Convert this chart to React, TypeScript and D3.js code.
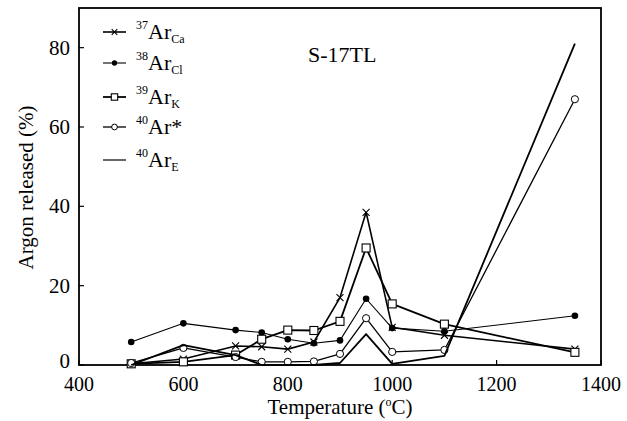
import React from 'react'
import * as d3 from 'd3'

// temperature steps (°C)
const temps = [500, 600, 700, 750, 800, 850, 900, 950, 1000, 1100, 1350]
// argon released (%) per isotope
const ar37Ca = [0.3, 1.5, 4.8, 4.6, 4.0, 5.8, 17, 38.5, 9.5, 7.5, 4.0]
const ar38Cl = [5.8, 10.5, 8.8, 8.2, 6.5, 5.5, 6.2, 16.7, 9.3, 8.5, 12.4]
const ar39K = [0.3, 0.8, 2.5, 6.5, 8.8, 8.7, 11, 29.5, 15.4, 10.3, 3.2]
const ar40Star = [0.5, 4.3, 2.0, 0.8, 0.8, 0.9, 2.8, 11.8, 3.3, 3.8, 67]
const ar40E = [0, 5.0, 2.5, 0, 0, 0, 0.5, 7.8, 0.3, 2.3, 81]

const xTicks = [400, 600, 800, 1000, 1200, 1400]
const yTicks = [0, 20, 40, 60, 80]

const W = 627
const H = 421
const m = { left: 79, right: 601, top: 8, bottom: 365 }
const font = '"Liberation Serif", "DejaVu Serif", serif'

type Kind = 'cross' | 'dot' | 'square' | 'ring' | 'none'

const series: { name: string; sup: string; sub: string; values: number[]; kind: Kind; width: number }[] = [
  { name: 'Ca', sup: '37', sub: 'Ca', values: ar37Ca, kind: 'cross', width: 1.6 },
  { name: 'Cl', sup: '38', sub: 'Cl', values: ar38Cl, kind: 'dot', width: 1.1 },
  { name: 'K', sup: '39', sub: 'K', values: ar39K, kind: 'square', width: 1.8 },
  { name: 'Star', sup: '40', sub: '', values: ar40Star, kind: 'ring', width: 1.3 },
  { name: 'E', sup: '40', sub: 'E', values: ar40E, kind: 'none', width: 1.8 },
]

const Marker = ({ kind, x, y, s = 1 }: { kind: Kind; x: number; y: number; s?: number }) => {
  if (kind === 'cross')
    return <path d={`M${x - 3.5 * s},${y - 3.5 * s}L${x + 3.5 * s},${y + 3.5 * s}M${x - 3.5 * s},${y + 3.5 * s}L${x + 3.5 * s},${y - 3.5 * s}`} stroke="#000" strokeWidth={1.1} />
  if (kind === 'dot') return <circle cx={x} cy={y} r={3.3 * s} fill="#000" />
  if (kind === 'square') return <rect x={x - 4 * s} y={y - 4 * s} width={8 * s} height={8 * s} fill="#fff" stroke="#000" strokeWidth={1.1} />
  if (kind === 'ring') return <circle cx={x} cy={y} r={3.6 * s} fill="#fff" stroke="#000" strokeWidth={1} />
  return null
}

export default function App() {
  const x = d3.scaleLinear().domain([400, 1400]).range([m.left, m.right])
  const y = d3.scaleLinear().domain([0, 90]).range([m.bottom, m.top])
  const line = d3.line<number>().x((_, i) => x(temps[i])).y(d => y(d))

  return (
    <svg width={W} height={H} style={{ position: 'absolute', left: 0, top: 0, background: '#fff' }} fontFamily={font}>
      {/* frame */}
      <rect x={m.left} y={m.top} width={m.right - m.left} height={m.bottom - m.top} fill="none" stroke="#000" strokeWidth={1.8} />
      {xTicks.map(t => (
        <g key={t}>
          <line x1={x(t)} x2={x(t)} y1={m.bottom} y2={m.bottom - 5} stroke="#000" strokeWidth={1.2} />
          <text x={x(t)} y={391} fontSize={20} textAnchor="middle">{t}</text>
        </g>
      ))}
      {yTicks.map(t => (
        <g key={t}>
          <line x1={m.left} x2={m.left + 5} y1={y(t)} y2={y(t)} stroke="#000" strokeWidth={1.2} />
          <text x={70} y={t === 0 ? y(t) + 3 : y(t) + 7} fontSize={21} textAnchor="end">{t}</text>
        </g>
      ))}
      <text x={340} y={414} fontSize={21} textAnchor="middle">
        Temperature (<tspan fontSize={12} dy={-8}>o</tspan><tspan dy={8}>C)</tspan>
      </text>
      <text transform={`translate(33,${(m.top + m.bottom) / 2 + 1}) rotate(-90)`} fontSize={21} textAnchor="middle">Argon released (%)</text>
      <text x={308} y={62} fontSize={22}>S-17TL</text>

      {series.map(s => (
        <g key={s.name}>
          <path d={line(s.values) ?? ''} fill="none" stroke="#000" strokeWidth={s.width} strokeLinejoin="round" />
          {s.values.map((v, i) => <Marker key={i} kind={s.kind} x={x(temps[i])} y={y(v)} />)}
        </g>
      ))}

      {/* legend */}
      {series.map((s, i) => {
        const ly = [32, 63, 97, 127, 160][i]
        return (
          <g key={'l' + s.name}>
            <line x1={103} x2={126} y1={ly} y2={ly} stroke="#000" strokeWidth={s.kind === 'none' ? 1.2 : s.width} />
            <Marker kind={s.kind} x={114.5} y={ly} s={0.8} />
            <text x={136} y={ly + 7} fontSize={22}>
              <tspan fontSize={12} dy={-10}>{s.sup}</tspan>
              <tspan dy={10}>Ar</tspan>
              {s.sub ? <tspan fontSize={12} dy={4}>{s.sub}</tspan> : <tspan>*</tspan>}
            </text>
          </g>
        )
      })}
    </svg>
  )
}
